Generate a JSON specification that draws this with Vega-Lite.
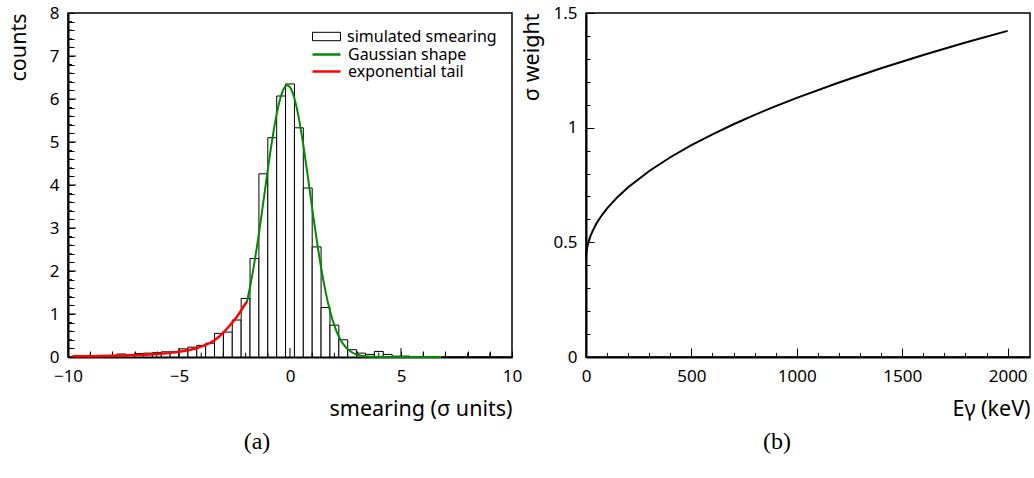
{
  "$schema": "https://vega.github.io/schema/vega-lite/v6.json",
  "autosize": {"type": "none"},
  "padding": {"left": 68, "top": 13, "right": 966, "bottom": 465},
  "background": "white",
  "spacing": 74,
  "bounds": "flush",
  "config": {
    "font": "Noto Sans",
    "view": {"stroke": "black", "strokeWidth": 1.5},
    "axis": {
      "grid": false,
      "zindex": 1,
      "domainColor": "black",
      "domainWidth": 2,
      "tickColor": "black",
      "tickWidth": 1,
      "labelFont": "Noto Sans",
      "labelFontSize": 17,
      "labelColor": "black",
      "labelFlush": false,
      "labelOverlap": false,
      "titleFont": "Noto Sans",
      "titleFontSize": 21.5,
      "titleFontWeight": "normal",
      "titleColor": "black"
    },
    "legend": {
      "labelFont": "Noto Sans", "labelFontSize": 16, "labelColor": "black",
      "labelOffset": 6, "padding": 0, "symbolSize": 784
    },
    "title": {"font": "Liberation Serif", "fontSize": 24, "fontWeight": "normal", "color": "black"}
  },
  "datasets": {
    "hist": [
      {"lo": -7.8, "hi": -7.4, "count": 0.07},
      {"lo": -7.4, "hi": -7.0, "count": 0.04},
      {"lo": -7.0, "hi": -6.6, "count": 0.08},
      {"lo": -6.6, "hi": -6.2, "count": 0.09},
      {"lo": -6.2, "hi": -5.8, "count": 0.1},
      {"lo": -5.8, "hi": -5.4, "count": 0.12},
      {"lo": -5.4, "hi": -5.0, "count": 0.12},
      {"lo": -5.0, "hi": -4.6, "count": 0.19},
      {"lo": -4.6, "hi": -4.2, "count": 0.23},
      {"lo": -4.2, "hi": -3.8, "count": 0.27},
      {"lo": -3.8, "hi": -3.4, "count": 0.32},
      {"lo": -3.4, "hi": -3.0, "count": 0.55},
      {"lo": -3.0, "hi": -2.6, "count": 0.58},
      {"lo": -2.6, "hi": -2.2, "count": 0.86},
      {"lo": -2.2, "hi": -1.8, "count": 1.36},
      {"lo": -1.8, "hi": -1.4, "count": 2.29},
      {"lo": -1.4, "hi": -1.0, "count": 4.26},
      {"lo": -1.0, "hi": -0.6, "count": 5.1},
      {"lo": -0.6, "hi": -0.2, "count": 6.07},
      {"lo": -0.2, "hi": 0.2, "count": 6.35},
      {"lo": 0.2, "hi": 0.6, "count": 5.33},
      {"lo": 0.6, "hi": 1.0, "count": 3.93},
      {"lo": 1.0, "hi": 1.4, "count": 2.56},
      {"lo": 1.4, "hi": 1.8, "count": 1.15},
      {"lo": 1.8, "hi": 2.2, "count": 0.74},
      {"lo": 2.2, "hi": 2.6, "count": 0.4},
      {"lo": 2.6, "hi": 3.0, "count": 0.17},
      {"lo": 3.0, "hi": 3.4, "count": 0.09},
      {"lo": 3.4, "hi": 3.8, "count": 0.06},
      {"lo": 3.8, "hi": 4.2, "count": 0.13},
      {"lo": 4.2, "hi": 4.6, "count": 0.06},
      {"lo": 4.6, "hi": 5.0, "count": 0.02},
      {"lo": 5.0, "hi": 5.4, "count": 0.02},
      {"lo": 5.4, "hi": 5.8, "count": 0.01}
    ],
    "gauss": [
      {"x": -1.95, "y": 1.264}, {"x": -1.9, "y": 1.378}, {"x": -1.8, "y": 1.628}, {"x": -1.7, "y": 1.904},
      {"x": -1.6, "y": 2.206}, {"x": -1.5, "y": 2.531}, {"x": -1.4, "y": 2.876}, {"x": -1.3, "y": 3.236},
      {"x": -1.2, "y": 3.608}, {"x": -1.1, "y": 3.984}, {"x": -1.0, "y": 4.356}, {"x": -0.9, "y": 4.718},
      {"x": -0.8, "y": 5.06}, {"x": -0.7, "y": 5.376}, {"x": -0.6, "y": 5.658}, {"x": -0.5, "y": 5.896},
      {"x": -0.4, "y": 6.086}, {"x": -0.3, "y": 6.222}, {"x": -0.2, "y": 6.3}, {"x": -0.1, "y": 6.319},
      {"x": 0.0, "y": 6.276}, {"x": 0.1, "y": 6.175}, {"x": 0.2, "y": 6.017}, {"x": 0.3, "y": 5.806},
      {"x": 0.4, "y": 5.55}, {"x": 0.5, "y": 5.254}, {"x": 0.6, "y": 4.927}, {"x": 0.7, "y": 4.575},
      {"x": 0.8, "y": 4.208}, {"x": 0.9, "y": 3.833}, {"x": 1.0, "y": 3.459}, {"x": 1.1, "y": 3.091},
      {"x": 1.2, "y": 2.735}, {"x": 1.3, "y": 2.398}, {"x": 1.4, "y": 2.082}, {"x": 1.5, "y": 1.79},
      {"x": 1.6, "y": 1.525}, {"x": 1.7, "y": 1.287}, {"x": 1.8, "y": 1.075}, {"x": 1.9, "y": 0.889},
      {"x": 2.0, "y": 0.729}, {"x": 2.1, "y": 0.592}, {"x": 2.2, "y": 0.476}, {"x": 2.3, "y": 0.379},
      {"x": 2.4, "y": 0.299}, {"x": 2.5, "y": 0.233}, {"x": 2.6, "y": 0.181}, {"x": 2.7, "y": 0.138},
      {"x": 2.8, "y": 0.105}, {"x": 2.9, "y": 0.079}, {"x": 3.0, "y": 0.059}, {"x": 3.2, "y": 0.032},
      {"x": 3.4, "y": 0.016}, {"x": 3.6, "y": 0.008}, {"x": 3.8, "y": 0.004}, {"x": 4.0, "y": 0.002},
      {"x": 4.5, "y": 0.001}, {"x": 5.0, "y": 0.0}, {"x": 6.0, "y": 0.0}, {"x": 6.8, "y": 0.0}
    ],
    "tail": [
      {"x": -9.8, "y": 0.015}, {"x": -9.5, "y": 0.017}, {"x": -9.0, "y": 0.02}, {"x": -8.5, "y": 0.025},
      {"x": -8.0, "y": 0.03}, {"x": -7.5, "y": 0.035}, {"x": -7.0, "y": 0.045}, {"x": -6.5, "y": 0.055},
      {"x": -6.0, "y": 0.07}, {"x": -5.5, "y": 0.09}, {"x": -5.0, "y": 0.12}, {"x": -4.6, "y": 0.155},
      {"x": -4.3, "y": 0.19}, {"x": -4.0, "y": 0.24}, {"x": -3.8, "y": 0.28}, {"x": -3.6, "y": 0.33},
      {"x": -3.4, "y": 0.39}, {"x": -3.2, "y": 0.47}, {"x": -3.0, "y": 0.57}, {"x": -2.8, "y": 0.68},
      {"x": -2.6, "y": 0.8}, {"x": -2.4, "y": 0.93}, {"x": -2.2, "y": 1.08}, {"x": -2.1, "y": 1.17},
      {"x": -1.95, "y": 1.28}
    ],
    "xminor": [
      {"v": -9}, {"v": -8}, {"v": -7}, {"v": -6}, {"v": -4}, {"v": -3}, {"v": -2}, {"v": -1},
      {"v": 1}, {"v": 2}, {"v": 3}, {"v": 4}, {"v": 6}, {"v": 7}, {"v": 8}, {"v": 9}
    ],
    "xmajor": [{"v": -5}, {"v": 0}, {"v": 5}],
    "yminor": [
      {"v": 0.2}, {"v": 0.4}, {"v": 0.6}, {"v": 0.8}, {"v": 1.2}, {"v": 1.4}, {"v": 1.6}, {"v": 1.8},
      {"v": 2.2}, {"v": 2.4}, {"v": 2.6}, {"v": 2.8}, {"v": 3.2}, {"v": 3.4}, {"v": 3.6}, {"v": 3.8},
      {"v": 4.2}, {"v": 4.4}, {"v": 4.6}, {"v": 4.8}, {"v": 5.2}, {"v": 5.4}, {"v": 5.6}, {"v": 5.8},
      {"v": 6.2}, {"v": 6.4}, {"v": 6.6}, {"v": 6.8}, {"v": 7.2}, {"v": 7.4}, {"v": 7.6}, {"v": 7.8}
    ],
    "ymajor": [{"v": 1}, {"v": 2}, {"v": 3}, {"v": 4}, {"v": 5}, {"v": 6}, {"v": 7}],
    "weight": [
      {"E": 0, "w": 0.425}, {"E": 2, "w": 0.457}, {"E": 5, "w": 0.475}, {"E": 10, "w": 0.496},
      {"E": 20, "w": 0.525}, {"E": 30, "w": 0.547}, {"E": 50, "w": 0.583}, {"E": 75, "w": 0.618},
      {"E": 100, "w": 0.648}, {"E": 150, "w": 0.698}, {"E": 200, "w": 0.74}, {"E": 300, "w": 0.811},
      {"E": 400, "w": 0.871}, {"E": 500, "w": 0.924}, {"E": 600, "w": 0.971}, {"E": 700, "w": 1.015},
      {"E": 800, "w": 1.056}, {"E": 900, "w": 1.094}, {"E": 1000, "w": 1.13}, {"E": 1200, "w": 1.197},
      {"E": 1400, "w": 1.259}, {"E": 1600, "w": 1.317}, {"E": 1800, "w": 1.371}, {"E": 2000, "w": 1.422}
    ]
  },
  "hconcat": [
    {
      "width": 444,
      "height": 344,
      "title": {"text": "(a)", "orient": "bottom", "anchor": "middle", "frame": "group", "dx": -33, "offset": 10},
      "resolve": {"axis": {"x": "independent", "y": "independent"}},
      "layer": [
        {
          "data": {"name": "hist"},
          "mark": {"type": "bar", "stroke": "black", "strokeWidth": 1},
          "encoding": {
            "x": {
              "field": "lo", "type": "quantitative", "title": "smearing (σ units)",
              "scale": {"domain": [-10, 10], "nice": false, "zero": false},
              "axis": {
                "orient": "bottom",
                "values": [-10, -9, -8, -7, -6, -5, -4, -3, -2, -1, 0, 1, 2, 3, 4, 5, 6, 7, 8, 9, 10],
                "ticks": true,
                "tickSize": -6,
                "labelExpr": "datum.value % 5 === 0 ? datum.label : ''",
                "labelOverlap": false,
                "labelPadding": 17,
                "titleX": 444, "titleY": 58, "titleAlign": "right", "titleBaseline": "alphabetic"
              }
            },
            "x2": {"field": "hi"},
            "y": {
              "field": "count", "type": "quantitative", "title": "counts",
              "scale": {"domain": [0, 8], "nice": false},
              "axis": {
                "orient": "left",
                "values": [0, 0.2, 0.4, 0.6, 0.8, 1, 1.2, 1.4, 1.6, 1.8, 2, 2.2, 2.4, 2.6, 2.8, 3, 3.2, 3.4, 3.6, 3.8, 4, 4.2, 4.4, 4.6, 4.8, 5, 5.2, 5.4, 5.6, 5.8, 6, 6.2, 6.4, 6.6, 6.8, 7, 7.2, 7.4, 7.6, 7.8, 8],
                "ticks": true,
                "tickSize": -6,
                "labelExpr": "datum.value % 1 === 0 ? format(datum.value, 'd') : ''",
                "labelOverlap": false,
                "labelPadding": 15,
                "titleX": -43, "titleY": 0, "titleAlign": "right", "titleBaseline": "alphabetic"
              }
            },
            "y2": {"datum": 0},
            "fill": {
              "datum": "simulated smearing", "type": "nominal",
              "scale": {"range": ["white"]},
              "legend": {
                "orient": "none", "legendX": 244, "legendY": 9, "title": null,
                "symbolType": "M-1,-0.3H1V0.3H-1Z",
                "symbolStrokeColor": "black",
                "symbolStrokeWidth": 1
              }
            }
          }
        },
        {
          "data": {"name": "xminor"},
          "mark": {"type": "rule", "color": "black", "strokeWidth": 1},
          "encoding": {
            "x": {"field": "v", "type": "quantitative", "axis": null},
            "y": {"datum": 0, "type": "quantitative", "axis": null},
            "y2": {"datum": 0.1}
          }
        },
        {
          "data": {"name": "xmajor"},
          "mark": {"type": "rule", "color": "black", "strokeWidth": 1},
          "encoding": {
            "x": {"field": "v", "type": "quantitative", "axis": null},
            "y": {"datum": 0, "type": "quantitative", "axis": null},
            "y2": {"datum": 0.21}
          }
        },
        {
          "data": {"name": "yminor"},
          "mark": {"type": "rule", "color": "black", "strokeWidth": 1},
          "encoding": {
            "y": {"field": "v", "type": "quantitative", "axis": null},
            "x": {"datum": -10, "type": "quantitative", "axis": null},
            "x2": {"datum": -9.82}
          }
        },
        {
          "data": {"name": "ymajor"},
          "mark": {"type": "rule", "color": "black", "strokeWidth": 1},
          "encoding": {
            "y": {"field": "v", "type": "quantitative", "axis": null},
            "x": {"datum": -10, "type": "quantitative", "axis": null},
            "x2": {"datum": -9.64}
          }
        },
        {
          "data": {"name": "gauss"},
          "mark": {"type": "line", "strokeWidth": 2},
          "encoding": {
            "x": {"field": "x", "type": "quantitative", "axis": null},
            "y": {"field": "y", "type": "quantitative", "axis": null},
            "stroke": {
              "datum": "Gaussian shape", "type": "nominal",
              "scale": {"domain": ["Gaussian shape"], "range": ["#008a00"]},
              "legend": {
                "orient": "none", "legendX": 243, "legendY": 26, "title": null,
                "symbolType": "M-1,0H1",
                "symbolStrokeWidth": 2.5
              }
            }
          }
        },
        {
          "data": {"name": "tail"},
          "mark": {"type": "line", "strokeWidth": 2.5},
          "encoding": {
            "x": {"field": "x", "type": "quantitative", "axis": null},
            "y": {"field": "y", "type": "quantitative", "axis": null},
            "color": {
              "datum": "exponential tail", "type": "nominal",
              "scale": {"domain": ["exponential tail"], "range": ["#ff0000"]},
              "legend": {
                "orient": "none", "legendX": 243, "legendY": 43, "title": null,
                "symbolType": "M-1,0H1",
                "symbolStrokeWidth": 2.5
              }
            }
          }
        }
      ]
    },
    {
      "width": 444,
      "height": 344,
      "title": {"text": "(b)", "orient": "bottom", "anchor": "middle", "frame": "group", "dx": -31, "offset": 10},
      "data": {"name": "weight"},
      "mark": {"type": "line", "stroke": "black", "strokeWidth": 2},
      "encoding": {
        "x": {
          "field": "E", "type": "quantitative", "title": "Eγ (keV)",
          "scale": {"domain": [0, 2106], "nice": false, "zero": false},
          "axis": {
            "orient": "bottom",
            "values": [0, 100, 200, 300, 400, 500, 600, 700, 800, 900, 1000, 1100, 1200, 1300, 1400, 1500, 1600, 1700, 1800, 1900, 2000],
            "tickSize": {"condition": {"test": "datum.value % 500 === 0", "value": -9}, "value": -4.5},
            "labelExpr": "datum.value % 500 === 0 ? datum.label : ''",
            "labelOverlap": false,
            "format": "d",
            "labelPadding": 20,
            "titleX": 444, "titleY": 58, "titleAlign": "right", "titleBaseline": "alphabetic"
          }
        },
        "y": {
          "field": "w", "type": "quantitative", "title": "σ weight",
          "scale": {"domain": [0, 1.5], "nice": false},
          "axis": {
            "values": [0, 0.1, 0.2, 0.3, 0.4, 0.5, 0.6, 0.7, 0.8, 0.9, 1, 1.1, 1.2, 1.3, 1.4, 1.5],
            "tickSize": {"condition": {"test": "abs(datum.value * 2 - round(datum.value * 2)) < 0.001", "value": -8}, "value": -4},
            "labelExpr": "abs(datum.value * 2 - round(datum.value * 2)) < 0.001 ? format(datum.value, '~g') : ''",
            "labelOverlap": false,
            "labelPadding": 17,
            "titleX": -48, "titleY": 0, "titleAlign": "right", "titleBaseline": "alphabetic"
          }
        }
      }
    }
  ]
}
